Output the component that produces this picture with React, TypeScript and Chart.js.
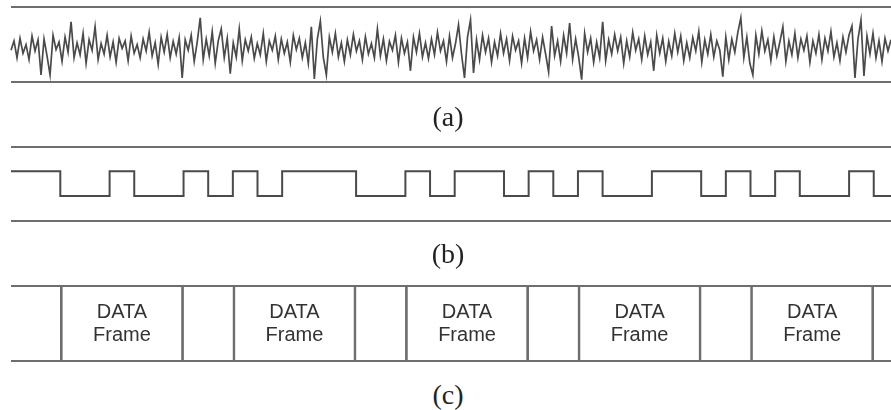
import React, { useEffect, useRef } from "react";
import { Chart, registerables } from "chart.js";

Chart.register(...registerables);

// (a) received noisy signal, hand-read amplitude samples (one every ~3 px)
const NOISE: number[] = [
  -10, 15, -30, 22, -18, 5, -35, 28, -12, 18, -76, 20, -25, -76, 30, -8, 12, -40, 25, -15,
  66, -30, 10, -22, 35, -45, 18, -10, 53, -35, 8, -20, 30, -28, 12, -42, 22, -5, 15, -38,
  28, -18, 5, -30, 20, -12, 38, -25, 10, -48, 25, -15, 32, -30, 14, -20, 24, -84, 18, -10,
  30, -40, 12, 77, -35, 20, -25, 40, -45, 15, 47, -30, 22, -73, 10, -28, 47, -38, 18, -12,
  25, -32, 8, -22, 35, -40, 15, -10, 28, -35, 20, -18, 12, -42, 30, -8, 22, -30, 10, -45,
  53, -87, 20, 68, -30, -76, 25, -15, 35, -28, 10, -40, 18, -22, 32, -12, 15, -35, 26, -20,
  8, -30, 47, -25, 20, -38, 14, -10, 30, -42, 22, -18, 12, -65, 25, -15, 35, -28, 10, -32,
  20, -22, 38, -12, 15, -40, 28, -30, 8, 58, -20, -84, 25, 71, -71, 18, -35, 30, -15, 22,
  -42, 12, -25, 35, -18, 20, -38, 28, -10, 15, -45, 22, -30, 40, -12, 18, -35, 25, -20, -68,
  55, -25, 15, -40, 30, -18, 63, -35, 20, -28, -89, 35, -15, 22, -42, 12, -30, 66, -38, 18,
  -20, 32, -12, 25, -45, 15, -28, 38, -10, 20, -35, 28, -22, 12, -65, 30, -18, 22, -40, 14,
  -25, 35, -15, 28, -38, 10, -30, 24, -12, 40, -42, 18, -20, 32, -28, 15, -10, -81, 25, -35,
  20, -15, 38, 77, -30, 25, -45, -76, 30, -20, 42, -12, 18, -38, 26, -25, 12, 53, -40, 15,
  -22, 35, -30, 20, -10, 28, -42, 15, -18, 32, -35, 22, -12, 40, -28, 10, -38, 25, -15, 30,
  55, -84, 20, 71, -79, 28, -20, 35, -30, 15, -40, 22, -12, 18,
];
const NOISE_MIN = -95;
const NOISE_MAX = 105;

// (b) recovered bit stream, one value per bit period
const BITS: number[] = [
  1, 1, 0, 0, 1, 0, 0, 1, 0, 1, 0, 1, 1, 1, 0, 0, 1, 0,
  1, 1, 0, 1, 0, 1, 0, 0, 1, 1, 0, 1, 0, 1, 0, 0, 1, 0,
];
const BIT_VIEW_END = 35.7; // visible width, in bit periods

// (c) framing, in bit periods
const FRAME_START: number[] = [2, 9, 16, 23, 30];
const FRAME_END: number[] = [7, 14, 21, 28, 35];
const FRAME_LABEL: string[] = ["DATA", "Frame"];

const PANEL_LABELS: string[] = ["(a)", "(b)", "(c)"];

const EDGE_COLOR = "#6e6e6e";

function edgeScale(min: number, max: number, extra: any = {}) {
  return {
    type: "linear",
    min,
    max,
    display: true,
    offset: false,
    ticks: { display: false },
    border: { display: false },
    grid: { drawTicks: false, offset: false, color: EDGE_COLOR, lineWidth: 2 },
    afterBuildTicks: (s: any) => {
      s.ticks = [{ value: min }, { value: max }];
    },
    ...extra,
  };
}

const frameTextPlugin = {
  id: "frameText",
  afterDatasetsDraw(chart: any) {
    const ctx = chart.ctx;
    ctx.save();
    ctx.font = '20px "Liberation Sans", Arial, sans-serif';
    ctx.fillStyle = "#333333";
    ctx.textAlign = "center";
    ctx.textBaseline = "alphabetic";
    chart.data.datasets.forEach((_: any, i: number) => {
      const el = chart.getDatasetMeta(i).data[0];
      if (!el) return;
      const p = el.getProps(["x", "y", "base"], true);
      const cx = (p.x + p.base) / 2;
      FRAME_LABEL.forEach((t, k) => ctx.fillText(t, cx, p.y - 5.2 + k * 22.7));
    });
    ctx.restore();
  },
};

function ChartBox({ top, height, make }: { top: number; height: number; make: () => any }) {
  const ref = useRef<HTMLCanvasElement | null>(null);
  useEffect(() => {
    if (!ref.current) return;
    const chart = new Chart(ref.current, make());
    return () => chart.destroy();
  }, []);
  return (
    <div style={{ position: "absolute", left: 0, top, width: 891, height }}>
      <canvas ref={ref} width={891} height={height} style={{ display: "block" }} />
    </div>
  );
}

const baseOptions = (padding: any) => ({
  animation: false,
  responsive: false,
  maintainAspectRatio: false,
  devicePixelRatio: 1,
  layout: { padding },
  plugins: { legend: { display: false }, tooltip: { enabled: false }, title: { display: false } },
  events: [],
});

function makeNoise() {
  return {
    type: "line",
    data: {
      labels: NOISE.map((_, i) => i),
      datasets: [
        {
          data: NOISE,
          borderColor: "#4a4a4a",
          borderWidth: 1.7,
          pointRadius: 0,
          tension: 0,
          fill: false,
        },
      ],
    },
    options: {
      ...baseOptions({ left: 11, right: 0, top: 7.3, bottom: 13 }),
      scales: {
        x: { type: "category", display: false, offset: false },
        y: edgeScale(NOISE_MIN, NOISE_MAX),
      },
    },
  };
}

function makeBits() {
  const pts = BITS.map((b, i) => ({ x: i, y: b }));
  pts.push({ x: BIT_VIEW_END, y: BITS[BITS.length - 1] });
  return {
    type: "line",
    data: {
      datasets: [
        {
          data: pts,
          stepped: "before",
          borderColor: "#4a4a4a",
          borderWidth: 2,
          pointRadius: 0,
          fill: false,
        },
      ],
    },
    options: {
      ...baseOptions({ left: 11, right: 0, top: 16.7, bottom: 9.3 }),
      scales: {
        x: { type: "linear", display: false, min: 0, max: BIT_VIEW_END },
        y: edgeScale(-1, 2),
      },
    },
  };
}

function makeFrames() {
  return {
    type: "bar",
    data: {
      labels: ["frames"],
      datasets: FRAME_START.map((s, i) => ({
        data: [[s, FRAME_END[i]]],
        grouped: false,
        backgroundColor: "rgba(0,0,0,0)",
        borderColor: EDGE_COLOR,
        borderWidth: { left: 2, right: 2, top: 0, bottom: 0 },
        borderSkipped: false,
        barPercentage: 1,
        categoryPercentage: 1,
      })),
    },
    options: {
      ...baseOptions({ left: 11, right: 0, top: 16, bottom: 9 }),
      indexAxis: "y",
      scales: {
        x: { type: "linear", display: false, min: 0, max: BIT_VIEW_END },
        y: { type: "category", display: false },
        edges: edgeScale(0, 1, { axis: "y", position: "left" }),
      },
    },
    plugins: [frameTextPlugin],
  };
}

const LABEL_CENTERS: number[] = [117, 254, 395];

export default function App() {
  return (
    <div
      style={{
        position: "absolute",
        left: 0,
        top: 0,
        width: 891,
        height: 410,
        background: "#ffffff",
        overflow: "hidden",
      }}
    >
      <ChartBox top={0} height={95} make={makeNoise} />
      <ChartBox top={130} height={100} make={makeBits} />
      <ChartBox top={270} height={100} make={makeFrames} />
      {PANEL_LABELS.map((t, i) => (
        <div
          key={t}
          style={{
            position: "absolute",
            left: 448 - 60,
            width: 120,
            top: LABEL_CENTERS[i] - 17,
            height: 34,
            lineHeight: "34px",
            textAlign: "center",
            fontFamily: '"Liberation Serif", "Times New Roman", serif',
            fontSize: 28,
            color: "#222",
          }}
        >
          {t}
        </div>
      ))}
    </div>
  );
}
